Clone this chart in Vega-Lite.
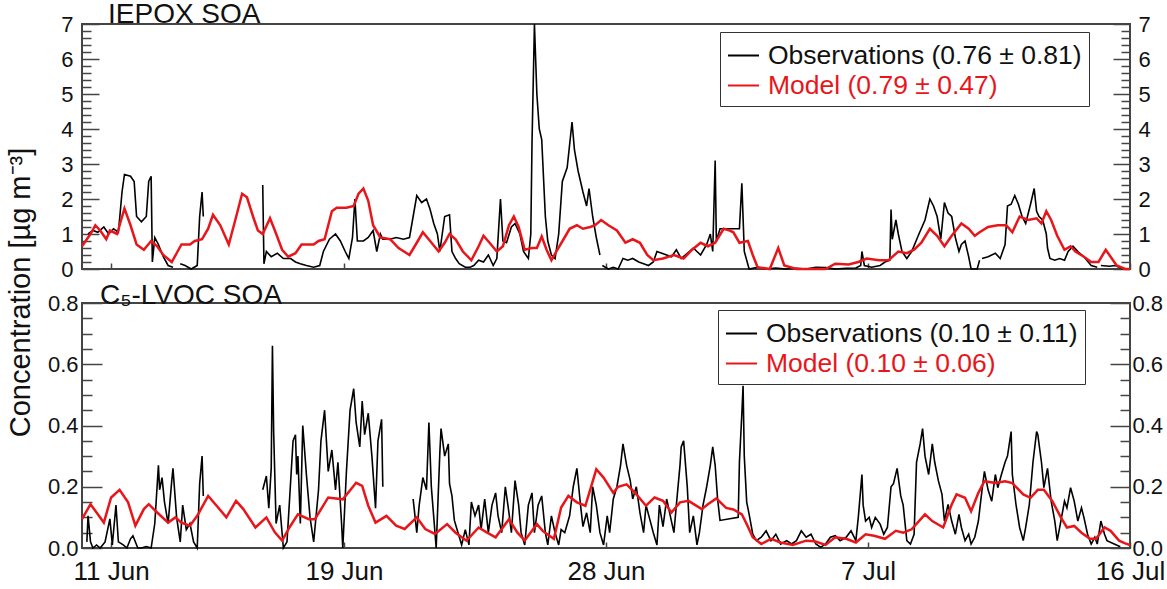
{
"$schema": "https://vega.github.io/schema/vega-lite/v6.json",
"background": "white",
"padding": {"left": 7, "top": 0, "right": 0, "bottom": 0},
"spacing": 0,
"title": {"text": "Concentration [µg m⁻³]", "orient": "left", "anchor": "middle", "fontSize": 29, "fontWeight": "normal", "font": "Liberation Sans", "color": "#111", "offset": 10},
"config": {
  "font": "Liberation Sans",
  "view": {"stroke": "#444", "strokeWidth": 2},
  "axis": {"grid": false, "domain": false, "labelFont": "Liberation Sans", "labelColor": "#111", "tickColor": "#444", "tickWidth": 1.5, "labelOverlap": false, "labelFlush": false}
},
"resolve": {"scale": {"color": "independent"}, "legend": {"color": "independent"}},
"datasets": {
"iepoxObs": [
{"time":"2013-06-10T05:00","value":1.0},{"time":"2013-06-10T09:00","value":1.1},{"time":"2013-06-10T13:00","value":1.05},{"time":"2013-06-10T18:00","value":1.2},{"time":"2013-06-10T22:00","value":1.0},
{"time":"2013-06-11T02:00","value":1.15},{"time":"2013-06-11T06:00","value":1.05},{"time":"2013-06-11T09:00","value":2.2},{"time":"2013-06-11T11:00","value":2.7},{"time":"2013-06-11T16:00","value":2.65},{"time":"2013-06-11T19:00","value":2.5},{"time":"2013-06-11T21:00","value":1.5},
{"time":"2013-06-12T01:00","value":1.35},{"time":"2013-06-12T05:00","value":1.5},{"time":"2013-06-12T07:00","value":2.5},{"time":"2013-06-12T09:00","value":2.65},{"time":"2013-06-12T10:00","value":0.2},{"time":"2013-06-12T12:00","value":0.9},{"time":"2013-06-12T15:00","value":0.7},{"time":"2013-06-12T19:00","value":0.35},{"time":"2013-06-12T23:00","value":0.1},
{"time":"2013-06-13T03:00","value":0.05},{"time":"2013-06-13T05:00","value":null},{"time":"2013-06-13T09:00","value":0.15},{"time":"2013-06-13T13:00","value":0.1},{"time":"2013-06-13T18:00","value":0.0},{"time":"2013-06-13T23:00","value":0.1},
{"time":"2013-06-14T01:00","value":1.5},{"time":"2013-06-14T03:00","value":2.2},{"time":"2013-06-14T04:00","value":1.5},{"time":"2013-06-14T06:00","value":null},
{"time":"2013-06-16T05:00","value":2.4},{"time":"2013-06-16T06:00","value":0.15},{"time":"2013-06-16T08:00","value":0.5},{"time":"2013-06-16T12:00","value":0.35},{"time":"2013-06-16T17:00","value":0.45},{"time":"2013-06-16T22:00","value":0.3},
{"time":"2013-06-17T04:00","value":0.3},{"time":"2013-06-17T08:00","value":0.2},{"time":"2013-06-17T12:00","value":0.15},{"time":"2013-06-17T17:00","value":0.1},{"time":"2013-06-17T23:00","value":0.05},
{"time":"2013-06-18T04:00","value":0.1},{"time":"2013-06-18T07:00","value":0.5},{"time":"2013-06-18T12:00","value":0.85},{"time":"2013-06-18T17:00","value":1.0},{"time":"2013-06-18T21:00","value":0.8},
{"time":"2013-06-19T01:00","value":0.5},{"time":"2013-06-19T04:00","value":0.3},{"time":"2013-06-19T07:00","value":0.9},{"time":"2013-06-19T09:00","value":2.0},{"time":"2013-06-19T11:00","value":0.8},{"time":"2013-06-19T16:00","value":0.8},{"time":"2013-06-19T20:00","value":0.9},
{"time":"2013-06-20T00:00","value":1.1},{"time":"2013-06-20T03:00","value":0.5},{"time":"2013-06-20T06:00","value":1.0},{"time":"2013-06-20T08:00","value":0.85},{"time":"2013-06-20T14:00","value":0.85},{"time":"2013-06-20T19:00","value":0.9},
{"time":"2013-06-21T01:00","value":0.85},{"time":"2013-06-21T06:00","value":0.9},{"time":"2013-06-21T09:00","value":1.5},{"time":"2013-06-21T12:00","value":2.1},{"time":"2013-06-21T16:00","value":1.9},{"time":"2013-06-21T20:00","value":2.0},{"time":"2013-06-21T23:00","value":1.7},
{"time":"2013-06-22T02:00","value":1.3},{"time":"2013-06-22T05:00","value":1.0},{"time":"2013-06-22T07:00","value":0.5},{"time":"2013-06-22T11:00","value":1.5},{"time":"2013-06-22T15:00","value":1.55},{"time":"2013-06-22T17:00","value":0.5},{"time":"2013-06-22T20:00","value":0.3},{"time":"2013-06-22T23:00","value":0.15},
{"time":"2013-06-23T04:00","value":0.05},{"time":"2013-06-23T08:00","value":0.05},{"time":"2013-06-23T11:00","value":0.1},{"time":"2013-06-23T15:00","value":0.25},{"time":"2013-06-23T19:00","value":0.2},{"time":"2013-06-23T23:00","value":0.4},
{"time":"2013-06-24T03:00","value":0.1},{"time":"2013-06-24T06:00","value":0.3},{"time":"2013-06-24T09:00","value":2.0},{"time":"2013-06-24T11:00","value":0.8},{"time":"2013-06-24T14:00","value":0.75},{"time":"2013-06-24T18:00","value":1.2},{"time":"2013-06-24T21:00","value":1.3},
{"time":"2013-06-25T01:00","value":1.0},{"time":"2013-06-25T04:00","value":0.5},{"time":"2013-06-25T08:00","value":0.3},{"time":"2013-06-25T10:00","value":1.0},{"time":"2013-06-25T11:00","value":3.6},{"time":"2013-06-25T13:00","value":7.0},{"time":"2013-06-25T14:00","value":6.0},{"time":"2013-06-25T15:00","value":5.0},{"time":"2013-06-25T17:00","value":4.0},{"time":"2013-06-25T19:00","value":3.7},{"time":"2013-06-25T22:00","value":1.5},
{"time":"2013-06-26T00:00","value":0.8},{"time":"2013-06-26T03:00","value":0.4},{"time":"2013-06-26T06:00","value":0.3},{"time":"2013-06-26T09:00","value":1.0},{"time":"2013-06-26T12:00","value":2.5},{"time":"2013-06-26T16:00","value":2.9},{"time":"2013-06-26T20:00","value":4.2},{"time":"2013-06-26T22:00","value":3.4},
{"time":"2013-06-27T01:00","value":2.8},{"time":"2013-06-27T05:00","value":2.2},{"time":"2013-06-27T08:00","value":1.8},{"time":"2013-06-27T10:00","value":2.3},{"time":"2013-06-27T13:00","value":1.5},{"time":"2013-06-27T16:00","value":0.9},{"time":"2013-06-27T19:00","value":0.4},{"time":"2013-06-27T20:00","value":null},{"time":"2013-06-27T21:00","value":0.1},
{"time":"2013-06-28T02:00","value":0.0},{"time":"2013-06-28T06:00","value":0.05},{"time":"2013-06-28T10:00","value":0.0},{"time":"2013-06-28T14:00","value":0.3},{"time":"2013-06-28T18:00","value":0.25},{"time":"2013-06-28T22:00","value":0.3},
{"time":"2013-06-29T03:00","value":0.2},{"time":"2013-06-29T07:00","value":0.15},{"time":"2013-06-29T11:00","value":0.1},{"time":"2013-06-29T15:00","value":0.2},{"time":"2013-06-29T18:00","value":0.5},{"time":"2013-06-29T22:00","value":0.45},
{"time":"2013-06-30T02:00","value":0.4},{"time":"2013-06-30T06:00","value":0.35},{"time":"2013-06-30T10:00","value":0.55},{"time":"2013-06-30T14:00","value":0.3},{"time":"2013-06-30T19:00","value":0.45},
{"time":"2013-07-01T00:00","value":0.6},{"time":"2013-07-01T06:00","value":0.4},{"time":"2013-07-01T11:00","value":0.7},{"time":"2013-07-01T14:00","value":1.0},{"time":"2013-07-01T16:00","value":0.5},{"time":"2013-07-01T18:00","value":3.1},{"time":"2013-07-01T19:00","value":0.8},{"time":"2013-07-01T22:00","value":1.15},
{"time":"2013-07-02T14:00","value":1.15},{"time":"2013-07-02T16:00","value":2.45},{"time":"2013-07-02T18:00","value":0.5},{"time":"2013-07-02T22:00","value":0.0},
{"time":"2013-07-03T05:00","value":0.05},{"time":"2013-07-03T12:00","value":0.0},{"time":"2013-07-03T20:00","value":0.03},
{"time":"2013-07-04T04:00","value":0.0},{"time":"2013-07-04T13:00","value":0.02},{"time":"2013-07-04T21:00","value":0.0},
{"time":"2013-07-05T05:00","value":0.05},{"time":"2013-07-05T13:00","value":0.04},{"time":"2013-07-05T21:00","value":0.0},
{"time":"2013-07-06T06:00","value":0.02},{"time":"2013-07-06T14:00","value":0.03},{"time":"2013-07-06T18:00","value":0.1},{"time":"2013-07-06T19:00","value":0.5},{"time":"2013-07-06T21:00","value":0.1},
{"time":"2013-07-07T03:00","value":0.05},{"time":"2013-07-07T10:00","value":0.1},{"time":"2013-07-07T14:00","value":0.2},{"time":"2013-07-07T18:00","value":0.25},{"time":"2013-07-07T19:00","value":1.7},{"time":"2013-07-07T20:00","value":0.85},{"time":"2013-07-07T23:00","value":1.4},
{"time":"2013-07-08T01:00","value":1.0},{"time":"2013-07-08T04:00","value":0.5},{"time":"2013-07-08T08:00","value":0.3},{"time":"2013-07-08T12:00","value":0.5},{"time":"2013-07-08T18:00","value":1.0},{"time":"2013-07-08T23:00","value":1.4},
{"time":"2013-07-09T03:00","value":2.0},{"time":"2013-07-09T06:00","value":1.8},{"time":"2013-07-09T09:00","value":1.5},{"time":"2013-07-09T12:00","value":0.85},{"time":"2013-07-09T15:00","value":1.9},{"time":"2013-07-09T18:00","value":1.6},{"time":"2013-07-09T21:00","value":1.5},
{"time":"2013-07-10T00:00","value":0.9},{"time":"2013-07-10T03:00","value":0.5},{"time":"2013-07-10T05:00","value":0.7},{"time":"2013-07-10T08:00","value":0.8},{"time":"2013-07-10T11:00","value":0.35},{"time":"2013-07-10T13:00","value":0.0},{"time":"2013-07-10T18:00","value":0.0},{"time":"2013-07-10T20:00","value":0.25},{"time":"2013-07-10T21:00","value":null},{"time":"2013-07-10T22:00","value":0.3},
{"time":"2013-07-11T03:00","value":0.35},{"time":"2013-07-11T09:00","value":0.45},{"time":"2013-07-11T13:00","value":0.3},{"time":"2013-07-11T17:00","value":0.7},{"time":"2013-07-11T19:00","value":1.8},{"time":"2013-07-11T22:00","value":1.85},
{"time":"2013-07-12T01:00","value":2.1},{"time":"2013-07-12T04:00","value":1.85},{"time":"2013-07-12T07:00","value":1.5},{"time":"2013-07-12T10:00","value":1.3},{"time":"2013-07-12T14:00","value":1.85},{"time":"2013-07-12T17:00","value":2.3},{"time":"2013-07-12T19:00","value":1.65},{"time":"2013-07-12T21:00","value":1.5},
{"time":"2013-07-13T00:00","value":1.4},{"time":"2013-07-13T03:00","value":1.0},{"time":"2013-07-13T04:00","value":0.6},{"time":"2013-07-13T06:00","value":0.3},{"time":"2013-07-13T10:00","value":0.25},{"time":"2013-07-13T14:00","value":0.3},{"time":"2013-07-13T18:00","value":0.25},{"time":"2013-07-13T21:00","value":0.5},
{"time":"2013-07-14T01:00","value":0.65},{"time":"2013-07-14T05:00","value":0.5},{"time":"2013-07-14T10:00","value":0.35},{"time":"2013-07-14T16:00","value":0.1},{"time":"2013-07-14T21:00","value":0.05},{"time":"2013-07-14T23:00","value":null},
{"time":"2013-07-15T00:00","value":0.1},{"time":"2013-07-15T07:00","value":0.08},{"time":"2013-07-15T12:00","value":0.1},{"time":"2013-07-15T18:00","value":0.0}
],
"iepoxModel": [
{"time":"2013-06-10T00:00","value":0.65},{"time":"2013-06-10T07:00","value":1.0},{"time":"2013-06-10T11:00","value":1.25},{"time":"2013-06-10T15:00","value":1.1},{"time":"2013-06-10T20:00","value":0.85},{"time":"2013-06-10T23:00","value":1.1},
{"time":"2013-06-11T05:00","value":1.0},{"time":"2013-06-11T07:00","value":1.25},{"time":"2013-06-11T11:00","value":1.73},{"time":"2013-06-11T16:00","value":1.25},{"time":"2013-06-11T21:00","value":0.7},
{"time":"2013-06-12T03:00","value":0.55},{"time":"2013-06-12T09:00","value":0.8},{"time":"2013-06-12T14:00","value":0.65},{"time":"2013-06-12T19:00","value":0.4},
{"time":"2013-06-13T02:00","value":0.2},{"time":"2013-06-13T06:00","value":0.45},{"time":"2013-06-13T10:00","value":0.7},{"time":"2013-06-13T17:00","value":0.7},{"time":"2013-06-13T21:00","value":0.8},
{"time":"2013-06-14T03:00","value":0.85},{"time":"2013-06-14T08:00","value":1.15},{"time":"2013-06-14T12:00","value":1.55},{"time":"2013-06-14T18:00","value":1.25},
{"time":"2013-06-15T01:00","value":0.7},{"time":"2013-06-15T06:00","value":1.35},{"time":"2013-06-15T12:00","value":2.15},{"time":"2013-06-15T16:00","value":2.05},{"time":"2013-06-15T21:00","value":1.5},
{"time":"2013-06-16T01:00","value":1.1},{"time":"2013-06-16T05:00","value":1.0},{"time":"2013-06-16T11:00","value":1.45},{"time":"2013-06-16T15:00","value":1.1},{"time":"2013-06-16T21:00","value":0.55},
{"time":"2013-06-17T02:00","value":0.35},{"time":"2013-06-17T08:00","value":0.45},{"time":"2013-06-17T13:00","value":0.7},{"time":"2013-06-17T23:00","value":0.7},
{"time":"2013-06-18T03:00","value":0.8},{"time":"2013-06-18T08:00","value":0.85},{"time":"2013-06-18T14:00","value":1.65},{"time":"2013-06-18T18:00","value":1.75},
{"time":"2013-06-19T02:00","value":1.75},{"time":"2013-06-19T08:00","value":1.8},{"time":"2013-06-19T12:00","value":2.15},{"time":"2013-06-19T16:00","value":2.3},{"time":"2013-06-19T20:00","value":1.95},
{"time":"2013-06-20T00:00","value":1.25},{"time":"2013-06-20T06:00","value":0.9},{"time":"2013-06-20T14:00","value":0.85},{"time":"2013-06-20T21:00","value":0.6},
{"time":"2013-06-21T06:00","value":0.4},{"time":"2013-06-21T12:00","value":0.75},{"time":"2013-06-21T17:00","value":1.05},{"time":"2013-06-21T23:00","value":0.8},
{"time":"2013-06-22T06:00","value":0.5},{"time":"2013-06-22T11:00","value":0.75},{"time":"2013-06-22T15:00","value":1.0},{"time":"2013-06-22T20:00","value":0.85},
{"time":"2013-06-23T02:00","value":0.5},{"time":"2013-06-23T09:00","value":0.25},{"time":"2013-06-23T15:00","value":0.65},{"time":"2013-06-23T19:00","value":0.95},
{"time":"2013-06-24T00:00","value":0.75},{"time":"2013-06-24T06:00","value":0.5},{"time":"2013-06-24T11:00","value":0.65},{"time":"2013-06-24T16:00","value":1.25},{"time":"2013-06-24T20:00","value":1.5},
{"time":"2013-06-25T00:00","value":1.2},{"time":"2013-06-25T05:00","value":0.55},{"time":"2013-06-25T11:00","value":0.6},{"time":"2013-06-25T15:00","value":0.6},{"time":"2013-06-25T19:00","value":0.93},{"time":"2013-06-25T23:00","value":0.55},
{"time":"2013-06-26T03:00","value":0.25},{"time":"2013-06-26T07:00","value":0.5},{"time":"2013-06-26T13:00","value":0.85},{"time":"2013-06-26T18:00","value":1.15},
{"time":"2013-06-27T00:00","value":1.25},{"time":"2013-06-27T05:00","value":1.15},{"time":"2013-06-27T11:00","value":1.2},{"time":"2013-06-27T15:00","value":1.25},{"time":"2013-06-27T20:00","value":1.4},
{"time":"2013-06-28T02:00","value":1.25},{"time":"2013-06-28T09:00","value":1.1},{"time":"2013-06-28T16:00","value":0.75},{"time":"2013-06-28T22:00","value":0.85},
{"time":"2013-06-29T04:00","value":0.75},{"time":"2013-06-29T10:00","value":0.4},{"time":"2013-06-29T15:00","value":0.25},{"time":"2013-06-29T23:00","value":0.3},
{"time":"2013-06-30T08:00","value":0.4},{"time":"2013-06-30T16:00","value":0.3},{"time":"2013-06-30T23:00","value":0.55},
{"time":"2013-07-01T06:00","value":0.75},{"time":"2013-07-01T12:00","value":0.65},{"time":"2013-07-01T18:00","value":0.75},
{"time":"2013-07-02T01:00","value":1.15},{"time":"2013-07-02T06:00","value":1.1},{"time":"2013-07-02T09:00","value":1.05},{"time":"2013-07-02T14:00","value":0.75},{"time":"2013-07-02T21:00","value":0.8},
{"time":"2013-07-03T01:00","value":0.4},{"time":"2013-07-03T05:00","value":0.05},{"time":"2013-07-03T15:00","value":0.0},{"time":"2013-07-03T22:00","value":0.6},
{"time":"2013-07-04T03:00","value":0.1},{"time":"2013-07-04T13:00","value":0.0},
{"time":"2013-07-05T00:00","value":0.0},{"time":"2013-07-05T13:00","value":0.0},{"time":"2013-07-05T21:00","value":0.15},
{"time":"2013-07-06T08:00","value":0.13},{"time":"2013-07-06T16:00","value":0.2},{"time":"2013-07-06T23:00","value":0.3},
{"time":"2013-07-07T09:00","value":0.25},{"time":"2013-07-07T17:00","value":0.25},
{"time":"2013-07-08T01:00","value":0.5},{"time":"2013-07-08T08:00","value":0.45},{"time":"2013-07-08T14:00","value":0.55},{"time":"2013-07-08T20:00","value":0.75},
{"time":"2013-07-09T03:00","value":1.15},{"time":"2013-07-09T09:00","value":0.95},{"time":"2013-07-09T15:00","value":0.65},{"time":"2013-07-09T21:00","value":0.95},
{"time":"2013-07-10T05:00","value":1.3},{"time":"2013-07-10T11:00","value":1.15},{"time":"2013-07-10T16:00","value":0.95},{"time":"2013-07-10T20:00","value":1.05},
{"time":"2013-07-11T03:00","value":1.2},{"time":"2013-07-11T11:00","value":1.25},{"time":"2013-07-11T18:00","value":1.25},{"time":"2013-07-11T23:00","value":1.05},
{"time":"2013-07-12T05:00","value":1.5},{"time":"2013-07-12T12:00","value":1.4},{"time":"2013-07-12T19:00","value":1.45},{"time":"2013-07-12T23:00","value":1.3},
{"time":"2013-07-13T03:00","value":1.65},{"time":"2013-07-13T07:00","value":1.4},{"time":"2013-07-13T12:00","value":0.95},{"time":"2013-07-13T18:00","value":0.55},{"time":"2013-07-13T23:00","value":0.65},
{"time":"2013-07-14T03:00","value":0.5},{"time":"2013-07-14T10:00","value":0.35},{"time":"2013-07-14T16:00","value":0.2},{"time":"2013-07-14T22:00","value":0.2},
{"time":"2013-07-15T04:00","value":0.55},{"time":"2013-07-15T08:00","value":0.35},{"time":"2013-07-15T13:00","value":0.1},{"time":"2013-07-15T20:00","value":0.0},{"time":"2013-07-16T00:00","value":0.0}
],
"lvocObs": [
{"time":"2013-06-10T04:00","value":0.02},{"time":"2013-06-10T05:00","value":0.105},{"time":"2013-06-10T07:00","value":0.02},{"time":"2013-06-10T09:00","value":0.0},{"time":"2013-06-10T12:00","value":0.01},{"time":"2013-06-10T15:00","value":0.0},{"time":"2013-06-10T19:00","value":0.02},{"time":"2013-06-10T23:00","value":0.095},
{"time":"2013-06-11T01:00","value":0.01},{"time":"2013-06-11T04:00","value":0.14},{"time":"2013-06-11T06:00","value":0.02},{"time":"2013-06-11T10:00","value":0.01},{"time":"2013-06-11T13:00","value":0.0},{"time":"2013-06-11T16:00","value":0.03},{"time":"2013-06-11T18:00","value":0.04},{"time":"2013-06-11T22:00","value":0.0},
{"time":"2013-06-12T01:00","value":0.0},{"time":"2013-06-12T05:00","value":0.005},{"time":"2013-06-12T09:00","value":0.0},{"time":"2013-06-12T12:00","value":0.08},{"time":"2013-06-12T15:00","value":0.27},{"time":"2013-06-12T16:00","value":0.19},{"time":"2013-06-12T18:00","value":0.23},{"time":"2013-06-12T20:00","value":0.15},{"time":"2013-06-12T23:00","value":0.08},
{"time":"2013-06-13T02:00","value":0.22},{"time":"2013-06-13T03:00","value":0.26},{"time":"2013-06-13T06:00","value":0.1},{"time":"2013-06-13T09:00","value":0.02},{"time":"2013-06-13T11:00","value":0.14},{"time":"2013-06-13T14:00","value":0.06},{"time":"2013-06-13T17:00","value":0.08},{"time":"2013-06-13T20:00","value":0.02},{"time":"2013-06-13T23:00","value":0.0},
{"time":"2013-06-14T01:00","value":0.21},{"time":"2013-06-14T03:00","value":0.3},{"time":"2013-06-14T04:00","value":0.17},{"time":"2013-06-14T06:00","value":null},
{"time":"2013-06-16T05:00","value":0.19},{"time":"2013-06-16T08:00","value":0.235},{"time":"2013-06-16T10:00","value":0.13},{"time":"2013-06-16T12:00","value":0.26},{"time":"2013-06-16T13:00","value":0.66},{"time":"2013-06-16T14:00","value":0.38},{"time":"2013-06-16T16:00","value":0.08},{"time":"2013-06-16T19:00","value":0.14},{"time":"2013-06-16T22:00","value":0.0},
{"time":"2013-06-17T01:00","value":0.02},{"time":"2013-06-17T03:00","value":0.15},{"time":"2013-06-17T06:00","value":0.35},{"time":"2013-06-17T08:00","value":0.37},{"time":"2013-06-17T09:00","value":0.24},{"time":"2013-06-17T10:00","value":0.3},{"time":"2013-06-17T12:00","value":0.08},{"time":"2013-06-17T14:00","value":0.4},{"time":"2013-06-17T17:00","value":0.24},{"time":"2013-06-17T20:00","value":0.1},{"time":"2013-06-17T23:00","value":0.02},
{"time":"2013-06-18T03:00","value":0.19},{"time":"2013-06-18T05:00","value":0.35},{"time":"2013-06-18T08:00","value":0.45},{"time":"2013-06-18T11:00","value":0.25},{"time":"2013-06-18T14:00","value":0.32},{"time":"2013-06-18T17:00","value":0.19},{"time":"2013-06-18T19:00","value":0.28},{"time":"2013-06-18T22:00","value":0.08},{"time":"2013-06-18T23:00","value":0.0},
{"time":"2013-06-19T02:00","value":0.25},{"time":"2013-06-19T05:00","value":0.45},{"time":"2013-06-19T08:00","value":0.52},{"time":"2013-06-19T10:00","value":0.41},{"time":"2013-06-19T13:00","value":0.33},{"time":"2013-06-19T15:00","value":0.48},{"time":"2013-06-19T17:00","value":0.37},{"time":"2013-06-19T20:00","value":0.44},{"time":"2013-06-19T23:00","value":0.3},
{"time":"2013-06-20T02:00","value":0.13},{"time":"2013-06-20T04:00","value":0.35},{"time":"2013-06-20T07:00","value":0.42},{"time":"2013-06-20T08:00","value":0.2},{"time":"2013-06-20T10:00","value":null},
{"time":"2013-06-21T09:00","value":0.16},{"time":"2013-06-21T12:00","value":0.05},{"time":"2013-06-21T14:00","value":0.14},{"time":"2013-06-21T17:00","value":0.23},{"time":"2013-06-21T20:00","value":0.19},{"time":"2013-06-21T22:00","value":0.41},
{"time":"2013-06-22T00:00","value":0.2},{"time":"2013-06-22T02:00","value":0.1},{"time":"2013-06-22T04:00","value":0.0},{"time":"2013-06-22T07:00","value":0.31},{"time":"2013-06-22T08:00","value":0.39},{"time":"2013-06-22T11:00","value":0.3},{"time":"2013-06-22T14:00","value":0.34},{"time":"2013-06-22T15:00","value":0.21},{"time":"2013-06-22T17:00","value":0.17},{"time":"2013-06-22T19:00","value":0.09},{"time":"2013-06-22T22:00","value":0.05},
{"time":"2013-06-23T01:00","value":0.01},{"time":"2013-06-23T04:00","value":0.06},{"time":"2013-06-23T07:00","value":0.01},{"time":"2013-06-23T09:00","value":0.15},{"time":"2013-06-23T12:00","value":0.105},{"time":"2013-06-23T15:00","value":0.14},{"time":"2013-06-23T17:00","value":0.06},{"time":"2013-06-23T20:00","value":0.16},{"time":"2013-06-23T23:00","value":0.05},
{"time":"2013-06-24T02:00","value":0.14},{"time":"2013-06-24T05:00","value":0.18},{"time":"2013-06-24T07:00","value":0.105},{"time":"2013-06-24T10:00","value":0.05},{"time":"2013-06-24T13:00","value":0.2},{"time":"2013-06-24T16:00","value":0.115},{"time":"2013-06-24T18:00","value":0.05},{"time":"2013-06-24T21:00","value":0.22},
{"time":"2013-06-25T00:00","value":0.14},{"time":"2013-06-25T02:00","value":0.05},{"time":"2013-06-25T05:00","value":0.01},{"time":"2013-06-25T08:00","value":0.14},{"time":"2013-06-25T11:00","value":0.18},{"time":"2013-06-25T13:00","value":0.05},{"time":"2013-06-25T16:00","value":0.14},{"time":"2013-06-25T19:00","value":0.17},{"time":"2013-06-25T22:00","value":0.05},
{"time":"2013-06-26T00:00","value":0.01},{"time":"2013-06-26T03:00","value":0.105},{"time":"2013-06-26T06:00","value":0.05},{"time":"2013-06-26T09:00","value":0.01},{"time":"2013-06-26T11:00","value":0.06},{"time":"2013-06-26T14:00","value":0.05},{"time":"2013-06-26T18:00","value":0.105},{"time":"2013-06-26T21:00","value":0.2},
{"time":"2013-06-27T00:00","value":0.26},{"time":"2013-06-27T03:00","value":0.14},{"time":"2013-06-27T05:00","value":0.07},{"time":"2013-06-27T08:00","value":0.115},{"time":"2013-06-27T11:00","value":0.05},{"time":"2013-06-27T13:00","value":0.2},{"time":"2013-06-27T16:00","value":0.14},{"time":"2013-06-27T19:00","value":0.05},{"time":"2013-06-27T22:00","value":0.01},
{"time":"2013-06-28T01:00","value":0.105},{"time":"2013-06-28T03:00","value":0.05},{"time":"2013-06-28T06:00","value":0.16},{"time":"2013-06-28T09:00","value":0.2},{"time":"2013-06-28T12:00","value":0.27},{"time":"2013-06-28T14:00","value":0.34},{"time":"2013-06-28T17:00","value":0.27},{"time":"2013-06-28T20:00","value":0.22},{"time":"2013-06-28T22:00","value":0.16},
{"time":"2013-06-29T01:00","value":0.2},{"time":"2013-06-29T04:00","value":0.115},{"time":"2013-06-29T07:00","value":0.05},{"time":"2013-06-29T09:00","value":0.14},{"time":"2013-06-29T12:00","value":0.095},{"time":"2013-06-29T15:00","value":0.05},{"time":"2013-06-29T18:00","value":0.01},{"time":"2013-06-29T20:00","value":0.14},{"time":"2013-06-29T23:00","value":0.07},
{"time":"2013-06-30T02:00","value":0.16},{"time":"2013-06-30T05:00","value":0.105},{"time":"2013-06-30T08:00","value":0.05},{"time":"2013-06-30T10:00","value":0.14},{"time":"2013-06-30T13:00","value":0.27},{"time":"2013-06-30T14:00","value":0.33},{"time":"2013-06-30T16:00","value":0.35},{"time":"2013-06-30T19:00","value":0.2},{"time":"2013-06-30T21:00","value":0.05},
{"time":"2013-07-01T00:00","value":0.105},{"time":"2013-07-01T03:00","value":0.01},{"time":"2013-07-01T05:00","value":0.05},{"time":"2013-07-01T08:00","value":0.14},{"time":"2013-07-01T11:00","value":0.2},{"time":"2013-07-01T14:00","value":0.27},{"time":"2013-07-01T16:00","value":0.33},{"time":"2013-07-01T18:00","value":0.27},{"time":"2013-07-01T20:00","value":0.16},{"time":"2013-07-01T22:00","value":0.09},
{"time":"2013-07-02T13:00","value":0.1},{"time":"2013-07-02T14:00","value":0.28},{"time":"2013-07-02T16:00","value":0.44},{"time":"2013-07-02T17:00","value":0.53},{"time":"2013-07-02T18:00","value":0.3},{"time":"2013-07-02T20:00","value":0.15},{"time":"2013-07-02T22:00","value":0.11},
{"time":"2013-07-03T01:00","value":0.045},{"time":"2013-07-03T04:00","value":0.024},{"time":"2013-07-03T08:00","value":0.035},{"time":"2013-07-03T12:00","value":0.056},{"time":"2013-07-03T16:00","value":0.024},{"time":"2013-07-03T20:00","value":0.045},
{"time":"2013-07-04T00:00","value":0.013},{"time":"2013-07-04T05:00","value":0.024},{"time":"2013-07-04T09:00","value":0.013},{"time":"2013-07-04T13:00","value":0.024},{"time":"2013-07-04T17:00","value":0.056},{"time":"2013-07-04T21:00","value":0.035},
{"time":"2013-07-05T01:00","value":0.045},{"time":"2013-07-05T05:00","value":0.013},{"time":"2013-07-05T09:00","value":0.002},{"time":"2013-07-05T13:00","value":0.013},{"time":"2013-07-05T17:00","value":0.035},{"time":"2013-07-05T21:00","value":0.04},
{"time":"2013-07-06T01:00","value":0.024},{"time":"2013-07-06T06:00","value":0.035},{"time":"2013-07-06T10:00","value":0.056},{"time":"2013-07-06T14:00","value":0.024},{"time":"2013-07-06T16:00","value":0.1},{"time":"2013-07-06T19:00","value":0.24},{"time":"2013-07-06T20:00","value":0.14},{"time":"2013-07-06T22:00","value":0.088},
{"time":"2013-07-07T01:00","value":0.1},{"time":"2013-07-07T03:00","value":0.067},{"time":"2013-07-07T06:00","value":0.1},{"time":"2013-07-07T10:00","value":0.078},{"time":"2013-07-07T13:00","value":0.045},{"time":"2013-07-07T16:00","value":0.067},{"time":"2013-07-07T19:00","value":0.2},{"time":"2013-07-07T21:00","value":0.21},
{"time":"2013-07-08T00:00","value":0.26},{"time":"2013-07-08T03:00","value":0.17},{"time":"2013-07-08T05:00","value":0.14},{"time":"2013-07-08T08:00","value":0.024},{"time":"2013-07-08T11:00","value":0.013},{"time":"2013-07-08T14:00","value":0.045},{"time":"2013-07-08T16:00","value":0.28},{"time":"2013-07-08T19:00","value":0.34},{"time":"2013-07-08T21:00","value":0.39},{"time":"2013-07-08T23:00","value":0.3},
{"time":"2013-07-09T02:00","value":0.24},{"time":"2013-07-09T05:00","value":0.34},{"time":"2013-07-09T07:00","value":0.28},{"time":"2013-07-09T10:00","value":0.22},{"time":"2013-07-09T13:00","value":0.175},{"time":"2013-07-09T15:00","value":0.088},{"time":"2013-07-09T18:00","value":0.142},{"time":"2013-07-09T21:00","value":0.088},
{"time":"2013-07-10T00:00","value":0.045},{"time":"2013-07-10T03:00","value":0.11},{"time":"2013-07-10T05:00","value":0.067},{"time":"2013-07-10T08:00","value":0.024},{"time":"2013-07-10T11:00","value":0.045},{"time":"2013-07-10T13:00","value":0.013},{"time":"2013-07-10T16:00","value":0.035},{"time":"2013-07-10T19:00","value":0.088},{"time":"2013-07-10T22:00","value":0.19},
{"time":"2013-07-11T00:00","value":0.25},{"time":"2013-07-11T03:00","value":0.19},{"time":"2013-07-11T06:00","value":0.153},{"time":"2013-07-11T09:00","value":0.24},{"time":"2013-07-11T11:00","value":0.197},{"time":"2013-07-11T14:00","value":0.24},{"time":"2013-07-11T17:00","value":0.28},{"time":"2013-07-11T19:00","value":0.3},{"time":"2013-07-11T22:00","value":0.38},{"time":"2013-07-11T23:00","value":0.24},
{"time":"2013-07-12T02:00","value":0.142},{"time":"2013-07-12T05:00","value":0.067},{"time":"2013-07-12T08:00","value":0.024},{"time":"2013-07-12T10:00","value":0.067},{"time":"2013-07-12T13:00","value":0.142},{"time":"2013-07-12T16:00","value":0.28},{"time":"2013-07-12T19:00","value":0.38},{"time":"2013-07-12T20:00","value":0.37},{"time":"2013-07-12T23:00","value":0.28},
{"time":"2013-07-13T01:00","value":0.197},{"time":"2013-07-13T04:00","value":0.26},{"time":"2013-07-13T07:00","value":0.153},{"time":"2013-07-13T10:00","value":0.088},{"time":"2013-07-13T12:00","value":0.024},{"time":"2013-07-13T15:00","value":0.088},{"time":"2013-07-13T18:00","value":0.153},{"time":"2013-07-13T20:00","value":0.131},{"time":"2013-07-13T23:00","value":0.197},
{"time":"2013-07-14T02:00","value":0.153},{"time":"2013-07-14T05:00","value":0.088},{"time":"2013-07-14T08:00","value":0.131},{"time":"2013-07-14T10:00","value":0.1},{"time":"2013-07-14T13:00","value":0.045},{"time":"2013-07-14T16:00","value":0.013},{"time":"2013-07-14T19:00","value":0.035},{"time":"2013-07-14T21:00","value":0.013},
{"time":"2013-07-15T00:00","value":0.088},{"time":"2013-07-15T03:00","value":0.045},{"time":"2013-07-15T05:00","value":0.024},{"time":"2013-07-15T11:00","value":0.013},{"time":"2013-07-15T16:00","value":0.004}
],
"lvocModel": [
{"time":"2013-06-10T00:00","value":0.094},{"time":"2013-06-10T07:00","value":0.143},{"time":"2013-06-10T12:00","value":0.116},{"time":"2013-06-10T18:00","value":0.083},
{"time":"2013-06-11T00:00","value":0.165},{"time":"2013-06-11T07:00","value":0.19},{"time":"2013-06-11T14:00","value":0.149},{"time":"2013-06-11T20:00","value":0.073},
{"time":"2013-06-12T03:00","value":0.127},{"time":"2013-06-12T07:00","value":0.143},{"time":"2013-06-12T14:00","value":0.116},{"time":"2013-06-12T23:00","value":0.083},
{"time":"2013-06-13T05:00","value":0.1},{"time":"2013-06-13T10:00","value":0.083},{"time":"2013-06-13T17:00","value":0.073},{"time":"2013-06-13T23:00","value":0.105},
{"time":"2013-06-14T08:00","value":0.17},{"time":"2013-06-14T15:00","value":0.138},{"time":"2013-06-14T23:00","value":0.1},
{"time":"2013-06-15T07:00","value":0.154},{"time":"2013-06-15T13:00","value":0.127},{"time":"2013-06-15T23:00","value":0.067},
{"time":"2013-06-16T08:00","value":0.1},{"time":"2013-06-16T15:00","value":0.051},{"time":"2013-06-16T21:00","value":0.024},
{"time":"2013-06-17T03:00","value":0.067},{"time":"2013-06-17T10:00","value":0.11},{"time":"2013-06-17T19:00","value":0.094},
{"time":"2013-06-18T00:00","value":0.094},{"time":"2013-06-18T11:00","value":0.165},{"time":"2013-06-18T23:00","value":0.159},
{"time":"2013-06-19T10:00","value":0.213},{"time":"2013-06-19T15:00","value":0.203},{"time":"2013-06-19T20:00","value":0.138},
{"time":"2013-06-20T02:00","value":0.083},{"time":"2013-06-20T11:00","value":0.105},{"time":"2013-06-20T19:00","value":0.073},
{"time":"2013-06-21T02:00","value":0.062},{"time":"2013-06-21T12:00","value":0.1},{"time":"2013-06-21T19:00","value":0.062},
{"time":"2013-06-22T03:00","value":0.046},{"time":"2013-06-22T13:00","value":0.078},{"time":"2013-06-22T20:00","value":0.05},
{"time":"2013-06-23T05:00","value":0.024},{"time":"2013-06-23T15:00","value":0.067},{"time":"2013-06-23T22:00","value":0.05},
{"time":"2013-06-24T05:00","value":0.035},{"time":"2013-06-24T16:00","value":0.094},{"time":"2013-06-24T23:00","value":0.05},
{"time":"2013-06-25T05:00","value":0.024},{"time":"2013-06-25T15:00","value":0.078},{"time":"2013-06-25T20:00","value":0.055},
{"time":"2013-06-26T05:00","value":0.03},{"time":"2013-06-26T11:00","value":0.132},{"time":"2013-06-26T17:00","value":0.17},
{"time":"2013-06-27T00:00","value":0.149},{"time":"2013-06-27T07:00","value":0.138},{"time":"2013-06-27T16:00","value":0.257},{"time":"2013-06-27T22:00","value":0.23},
{"time":"2013-06-28T06:00","value":0.18},{"time":"2013-06-28T10:00","value":0.2},{"time":"2013-06-28T17:00","value":0.208},
{"time":"2013-06-29T00:00","value":0.18},{"time":"2013-06-29T09:00","value":0.138},{"time":"2013-06-29T16:00","value":0.165},{"time":"2013-06-29T23:00","value":0.154},
{"time":"2013-06-30T06:00","value":0.116},{"time":"2013-06-30T13:00","value":0.149},{"time":"2013-06-30T20:00","value":0.154},
{"time":"2013-07-01T07:00","value":0.127},{"time":"2013-07-01T12:00","value":0.143},{"time":"2013-07-01T19:00","value":0.162},
{"time":"2013-07-02T03:00","value":0.131},{"time":"2013-07-02T09:00","value":0.126},{"time":"2013-07-02T16:00","value":0.11},{"time":"2013-07-02T20:00","value":0.078},
{"time":"2013-07-03T01:00","value":0.035},{"time":"2013-07-03T08:00","value":0.013},{"time":"2013-07-03T16:00","value":0.03},
{"time":"2013-07-04T00:00","value":0.018},{"time":"2013-07-04T10:00","value":0.01},{"time":"2013-07-04T21:00","value":0.024},
{"time":"2013-07-05T04:00","value":0.022},{"time":"2013-07-05T13:00","value":0.01},{"time":"2013-07-05T21:00","value":0.035},
{"time":"2013-07-06T06:00","value":0.03},{"time":"2013-07-06T14:00","value":0.018},{"time":"2013-07-06T22:00","value":0.045},
{"time":"2013-07-07T05:00","value":0.04},{"time":"2013-07-07T14:00","value":0.03},{"time":"2013-07-07T23:00","value":0.056},
{"time":"2013-07-08T05:00","value":0.05},{"time":"2013-07-08T12:00","value":0.061},{"time":"2013-07-08T23:00","value":0.11},
{"time":"2013-07-09T05:00","value":0.088},{"time":"2013-07-09T14:00","value":0.067},{"time":"2013-07-09T21:00","value":0.142},
{"time":"2013-07-10T01:00","value":0.175},{"time":"2013-07-10T08:00","value":0.164},{"time":"2013-07-10T13:00","value":0.12},{"time":"2013-07-10T19:00","value":0.18},
{"time":"2013-07-11T00:00","value":0.218},{"time":"2013-07-11T09:00","value":0.212},{"time":"2013-07-11T17:00","value":0.218},{"time":"2013-07-11T23:00","value":0.212},
{"time":"2013-07-12T08:00","value":0.175},{"time":"2013-07-12T14:00","value":0.164},{"time":"2013-07-12T20:00","value":0.19},
{"time":"2013-07-13T01:00","value":0.19},{"time":"2013-07-13T08:00","value":0.153},{"time":"2013-07-13T15:00","value":0.1},{"time":"2013-07-13T20:00","value":0.067},
{"time":"2013-07-14T02:00","value":0.072},{"time":"2013-07-14T08:00","value":0.05},{"time":"2013-07-14T15:00","value":0.03},{"time":"2013-07-14T20:00","value":0.03},
{"time":"2013-07-15T03:00","value":0.067},{"time":"2013-07-15T08:00","value":0.056},{"time":"2013-07-15T15:00","value":0.024},{"time":"2013-07-15T20:00","value":0.015},{"time":"2013-07-16T00:00","value":0.01}
]
},
"vconcat": [
{
  "width": 1048, "height": 245,
  "title": {"text": "IEPOX SOA", "orient": "top", "anchor": "start", "frame": "group", "offset": 0, "dx": 26, "dy": 38, "baseline": "alphabetic", "fontSize": 28, "fontWeight": "normal", "font": "Liberation Sans", "color": "#111111"},
  "resolve": {"axis": {"x": "independent", "y": "independent"}},
  "layer": [
    {
      "data": {"name": "iepoxObs"},
      "mark": {"type": "line", "strokeWidth": 1.6},
      "encoding": {
        "x": {"field": "time", "type": "temporal",
              "scale": {"domain": [{"year": 2013, "month": "jun", "date": 10}, {"year": 2013, "month": "jul", "date": 16}]},
              "axis": {"orient": "bottom", "values": [{"year": 2013, "month": "jun", "date": 11}, {"year": 2013, "month": "jun", "date": 19}, {"year": 2013, "month": "jun", "date": 28}, {"year": 2013, "month": "jul", "date": 7}, {"year": 2013, "month": "jul", "date": 16}],
                       "tickSize": 6, "offset": -6, "labels": false, "domain": false, "title": null}},
        "y": {"field": "value", "type": "quantitative", "scale": {"domain": [0, 7], "nice": false, "zero": false},
              "axis": {"orient": "left", "values": [0, 1, 2, 3, 4, 5, 6, 7], "format": "d", "tickSize": 17, "offset": -17, "labelPadding": 9, "labelFontSize": 22, "title": null}},
        "color": {"datum": "Observations (0.76 ± 0.81)", "type": "nominal",
                  "scale": {"domain": ["Observations (0.76 ± 0.81)", "Model (0.79 ± 0.47)"], "range": ["#000000", "#e8161b"]},
                  "legend": {"orient": "none", "legendX": 638, "legendY": 8, "title": null, "labelFontSize": 26.5, "labelLimit": 600,
                             "symbolType": "stroke", "symbolSize": 961, "symbolStrokeWidth": 2, "labelOffset": 8, "padding": 7, "rowPadding": 0,
                             "strokeColor": "#333", "fillColor": "white",
                             "encode": {"labels": {"update": {"fill": {"signal": "indexof(datum.value, 'Model') === 0 ? '#e8161b' : '#111111'"}}}}}}
      }
    },
    {
      "data": {"name": "iepoxModel"},
      "mark": {"type": "line", "strokeWidth": 2.5},
      "encoding": {
        "x": {"field": "time", "type": "temporal", "axis": null},
        "y": {"field": "value", "type": "quantitative",
              "axis": {"orient": "right", "values": [0, 1, 2, 3, 4, 5, 6, 7], "format": "d", "tickSize": 17, "offset": -17, "labelPadding": 8, "labelFontSize": 22, "title": null}},
        "color": {"datum": "Model (0.79 ± 0.47)", "type": "nominal"}
      }
    },
    {
      "data": {"name": "iepoxModel"},
      "mark": {"type": "line", "opacity": 0},
      "encoding": {
        "x": {"field": "time", "type": "temporal", "axis": null},
        "y": {"field": "value", "type": "quantitative",
              "axis": {"orient": "left", "values": [0.2,0.4,0.6,0.8,1.2,1.4,1.6,1.8,2.2,2.4,2.6,2.8,3.2,3.4,3.6,3.8,4.2,4.4,4.6,4.8,5.2,5.4,5.6,5.8,6.2,6.4,6.6,6.8], "tickSize": 9, "offset": -9, "labels": false, "title": null}}
      }
    },
    {
      "data": {"name": "iepoxModel"},
      "mark": {"type": "line", "opacity": 0},
      "encoding": {
        "x": {"field": "time", "type": "temporal", "axis": null},
        "y": {"field": "value", "type": "quantitative",
              "axis": {"orient": "right", "values": [0.2,0.4,0.6,0.8,1.2,1.4,1.6,1.8,2.2,2.4,2.6,2.8,3.2,3.4,3.6,3.8,4.2,4.4,4.6,4.8,5.2,5.4,5.6,5.8,6.2,6.4,6.6,6.8], "tickSize": 9, "offset": -9, "labels": false, "title": null}}
      }
    }
  ]
},
{
  "width": 1048, "height": 245,
  "title": {"text": "C₅-LVOC SOA", "orient": "top", "anchor": "start", "frame": "group", "offset": 0, "dx": 18, "dy": 40, "baseline": "alphabetic", "fontSize": 28, "fontWeight": "normal", "font": "Liberation Sans", "color": "#111111"},
  "resolve": {"axis": {"x": "independent", "y": "independent"}},
  "layer": [
    {
      "data": {"name": "lvocObs"},
      "mark": {"type": "line", "strokeWidth": 1.6},
      "encoding": {
        "x": {"field": "time", "type": "temporal",
              "scale": {"domain": [{"year": 2013, "month": "jun", "date": 10}, {"year": 2013, "month": "jul", "date": 16}]},
              "axis": {"orient": "bottom", "values": [{"year": 2013, "month": "jun", "date": 11}, {"year": 2013, "month": "jun", "date": 19}, {"year": 2013, "month": "jun", "date": 28}, {"year": 2013, "month": "jul", "date": 7}, {"year": 2013, "month": "jul", "date": 16}],
                       "format": "%-d %b", "tickSize": 6, "offset": -6, "labelPadding": 10, "labelFontSize": 26, "domain": false, "title": null}},
        "y": {"field": "value", "type": "quantitative", "scale": {"domain": [0, 0.8], "nice": false, "zero": false},
              "axis": {"orient": "left", "values": [0, 0.2, 0.4, 0.6, 0.8], "format": ".1f", "tickSize": 20, "offset": -20, "labelPadding": 4, "labelFontSize": 22, "title": null}},
        "color": {"datum": "Observations (0.10 ± 0.11)", "type": "nominal",
                  "scale": {"domain": ["Observations (0.10 ± 0.11)", "Model (0.10 ± 0.06)"], "range": ["#000000", "#e8161b"]},
                  "legend": {"orient": "none", "legendX": 636, "legendY": 7, "title": null, "labelFontSize": 26.5, "labelLimit": 600,
                             "symbolType": "stroke", "symbolSize": 961, "symbolStrokeWidth": 2, "labelOffset": 8, "padding": 7, "rowPadding": 0,
                             "strokeColor": "#333", "fillColor": "white",
                             "encode": {"labels": {"update": {"fill": {"signal": "indexof(datum.value, 'Model') === 0 ? '#e8161b' : '#111111'"}}}}}}
      }
    },
    {
      "data": {"name": "lvocModel"},
      "mark": {"type": "line", "strokeWidth": 2.5},
      "encoding": {
        "x": {"field": "time", "type": "temporal", "axis": null},
        "y": {"field": "value", "type": "quantitative",
              "axis": {"orient": "right", "values": [0, 0.2, 0.4, 0.6, 0.8], "format": ".1f", "tickSize": 20, "offset": -20, "labelPadding": 2, "labelFontSize": 22, "title": null}},
        "color": {"datum": "Model (0.10 ± 0.06)", "type": "nominal"}
      }
    },
    {
      "data": {"name": "lvocModel"},
      "mark": {"type": "line", "opacity": 0},
      "encoding": {
        "x": {"field": "time", "type": "temporal", "axis": null},
        "y": {"field": "value", "type": "quantitative",
              "axis": {"orient": "left", "values": [0.05,0.1,0.15,0.25,0.3,0.35,0.45,0.5,0.55,0.65,0.7,0.75], "tickSize": 10, "offset": -10, "labels": false, "title": null}}
      }
    },
    {
      "data": {"name": "lvocModel"},
      "mark": {"type": "line", "opacity": 0},
      "encoding": {
        "x": {"field": "time", "type": "temporal", "axis": null},
        "y": {"field": "value", "type": "quantitative",
              "axis": {"orient": "right", "values": [0.05,0.1,0.15,0.25,0.3,0.35,0.45,0.5,0.55,0.65,0.7,0.75], "tickSize": 10, "offset": -10, "labels": false, "title": null}}
      }
    }
  ]
}
]
}
